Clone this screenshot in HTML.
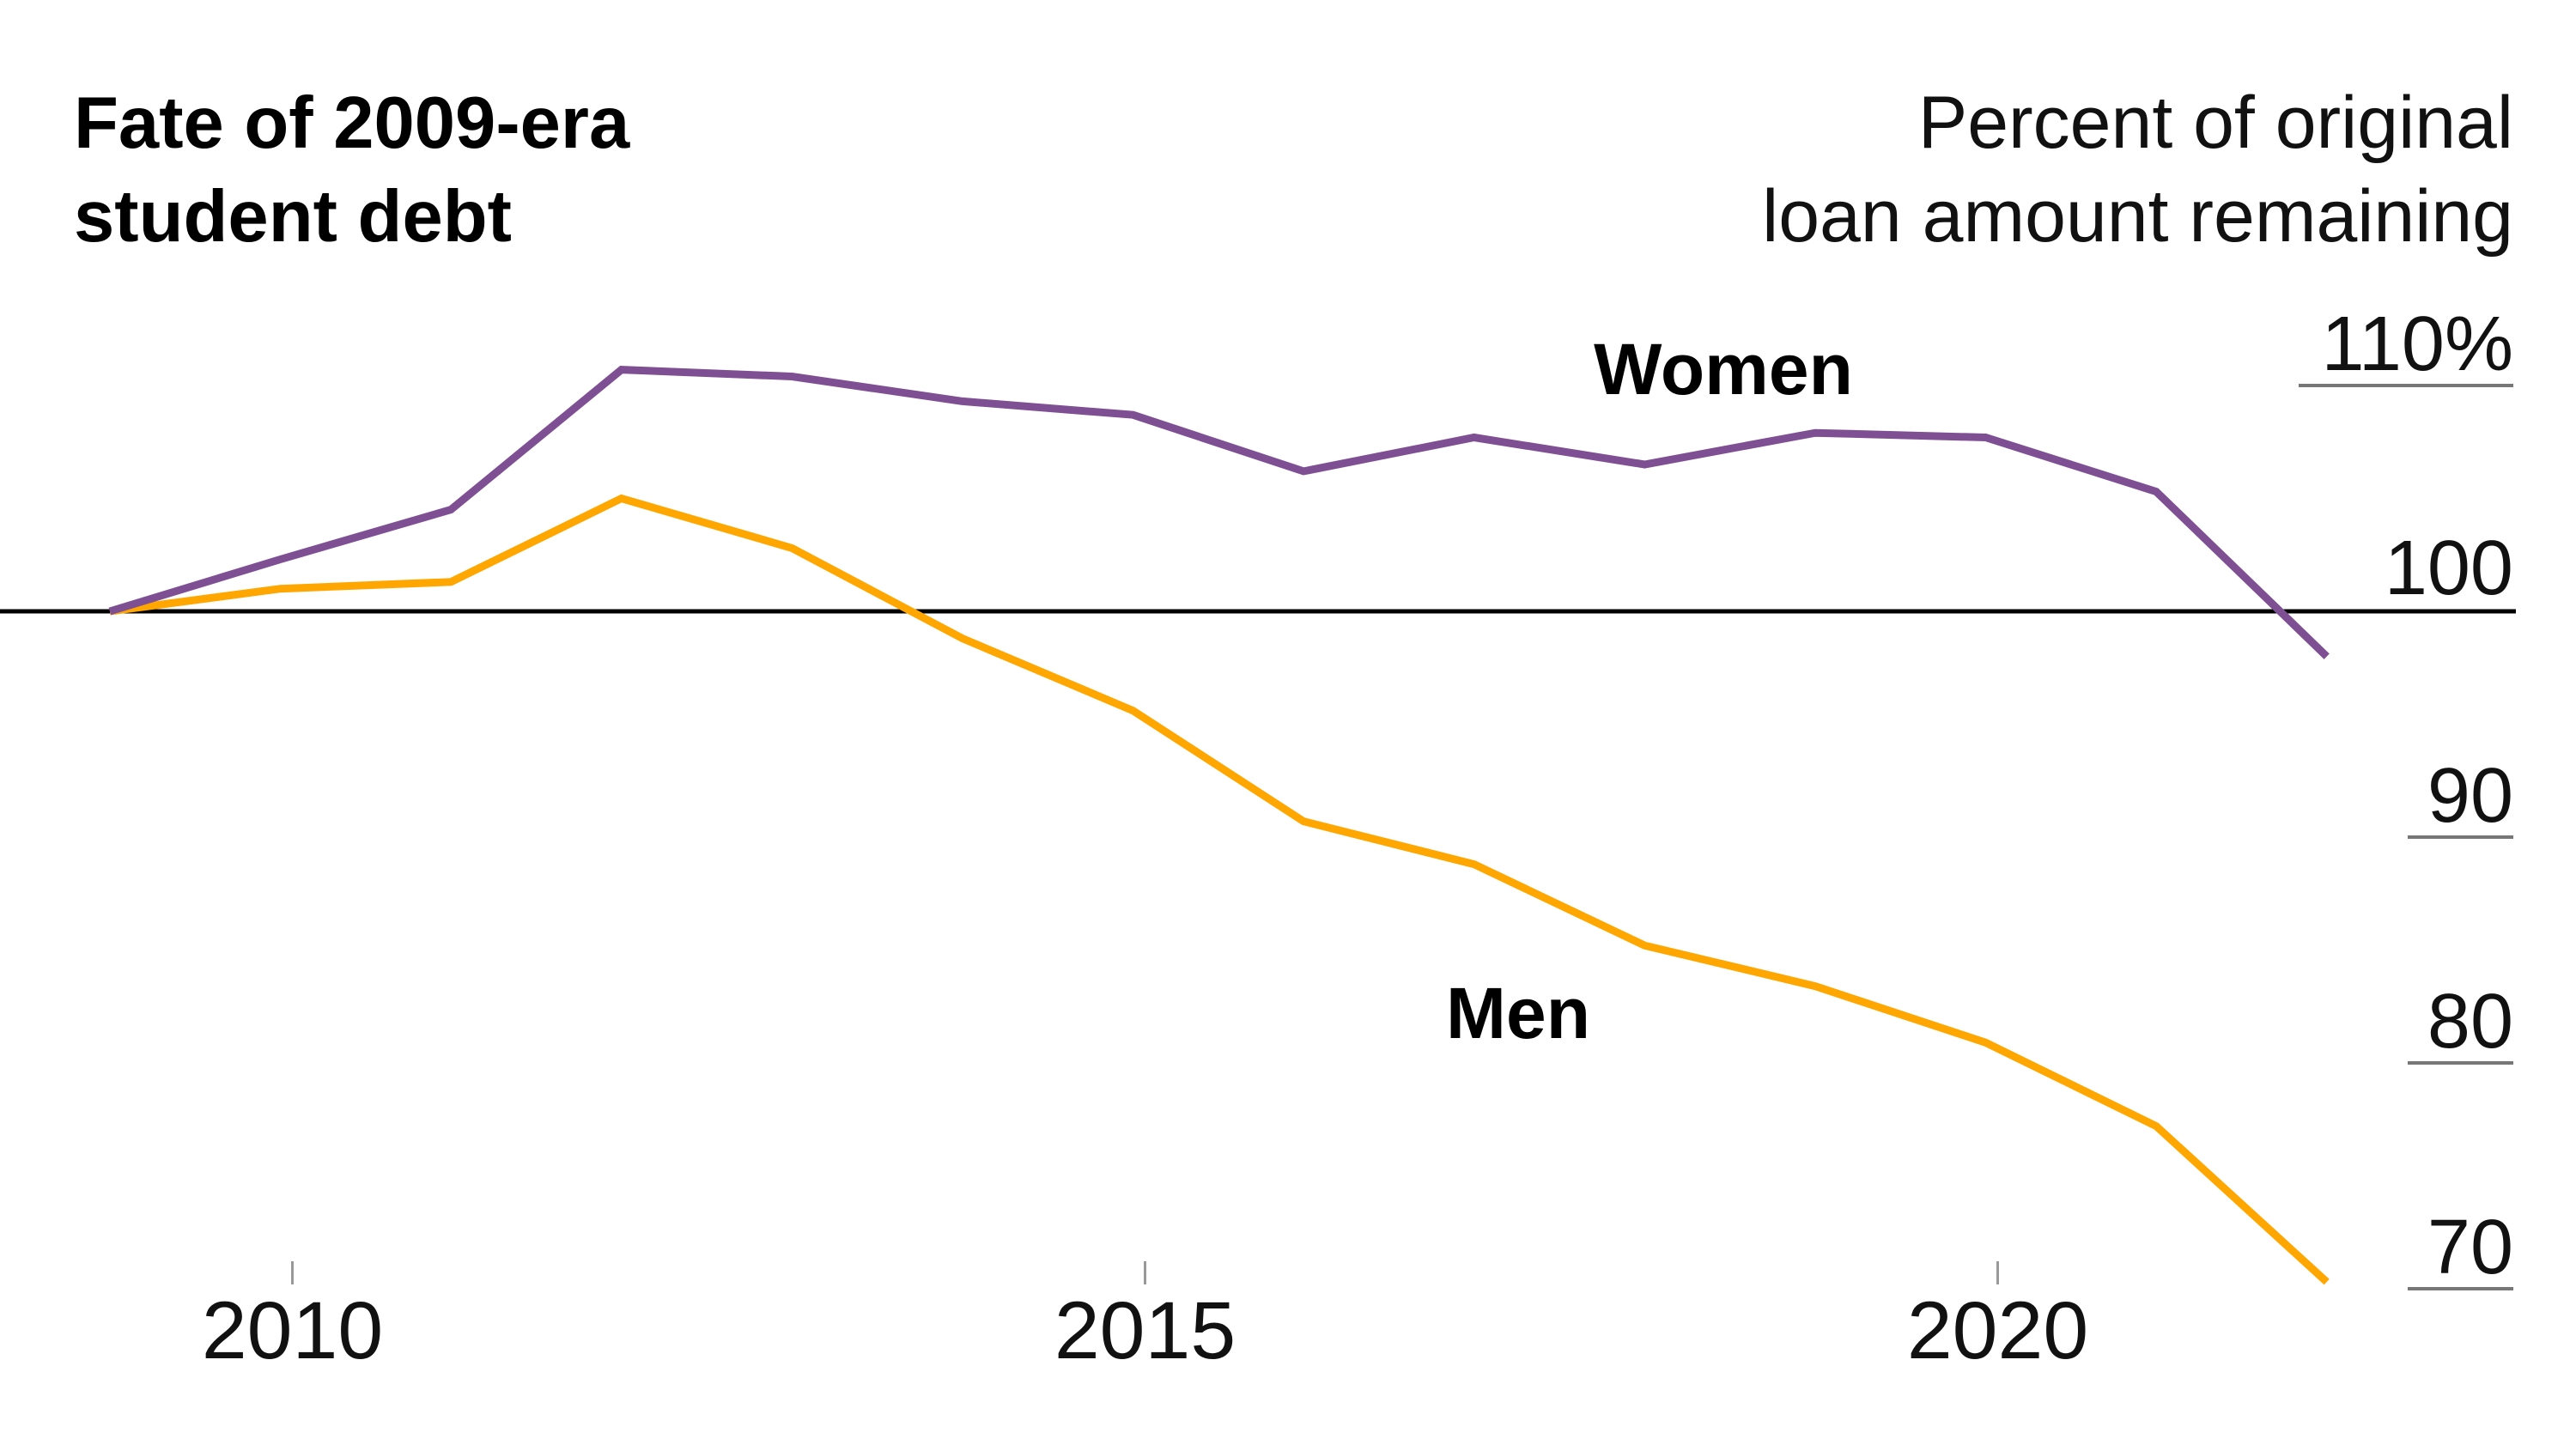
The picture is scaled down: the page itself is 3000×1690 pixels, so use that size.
<!DOCTYPE html>
<html><head><meta charset="utf-8"><style>
html,body{margin:0;padding:0;background:#fff;}
svg{display:block;}
text{font-family:"Liberation Sans",sans-serif;}
</style></head><body>
<svg id="chart" width="3000" height="1690" viewBox="0 0 3000 1690">
<text x="86" y="172" font-size="85" font-weight="bold" fill="#000">Fate of 2009-era</text>
<text x="86" y="281" font-size="85" font-weight="bold" fill="#000">student debt</text>
<text x="2927" y="172" font-size="86" text-anchor="end" fill="#111">Percent of original</text>
<text x="2927" y="281" font-size="86" text-anchor="end" fill="#111">loan amount remaining</text>
<g id="grid"></g>
<g id="xaxis"></g>
<g id="series"></g>
<text x="2007" y="459" font-size="84" font-weight="bold" text-anchor="middle" fill="#000">Women</text>
<text x="1768" y="1209" font-size="84" font-weight="bold" text-anchor="middle" fill="#000">Men</text>
</svg>
<script>
const years = [2009,2010,2011,2012,2013,2014,2015,2016,2017,2018,2019,2020,2021,2022];
const women = [100,102.3,104.5,110.7,110.4,109.3,108.7,106.2,107.7,106.5,107.9,107.7,105.3,98.0];
const men = [100,101.0,101.3,105.0,102.8,98.8,95.6,90.7,88.8,85.2,83.4,80.9,77.2,70.3];
const yTicks = [110,90,80,70];
const yTickLabels = ["110%","90","80","70"];
const xTicks = [2010,2015,2020];
const xTickLabels = ["2010","2015","2020"];

const NS = "http://www.w3.org/2000/svg";
function x(v){ return 340.5 + (v-2010)*198.6; }
function xs(v){ return x(v) - 14; }
function y(v){ return 712 - (v-100)*26.3; }
function mk(tag, attrs, parent){ const e=document.createElementNS(NS,tag); for(const k in attrs) e.setAttribute(k,attrs[k]); parent.appendChild(e); return e; }

const grid=document.getElementById('grid');
yTicks.forEach((t,i)=>{
  const lbl=yTickLabels[i];
  const w = lbl.length>2 ? 250 : 123;
  const ln=mk('line',{x1:2927-w,x2:2927,y1:y(t),y2:y(t),stroke:'#777','stroke-width':4},grid);
  
  
  const tx=mk('text',{x:2927,y:y(t)-18,'font-size':90,'text-anchor':'end',fill:'#111'},grid);
  tx.textContent=lbl;
  
  
});
const base=mk('line',{x1:0,x2:2930,y1:y(100),y2:y(100),stroke:'#000','stroke-width':5},grid);


const bl=mk('text',{x:2927,y:y(100)-20,'font-size':90,'text-anchor':'end',fill:'#111'},grid);
bl.textContent="100";



const xa=document.getElementById('xaxis');
xTicks.forEach((t,i)=>{
  const tk=mk('line',{x1:x(t),x2:x(t),y1:1469,y2:1496,stroke:'#999','stroke-width':3},xa);
  
  
  const tx=mk('text',{x:x(t),y:1582,'font-size':95,'text-anchor':'middle',fill:'#111'},xa);
  tx.textContent=xTickLabels[i];
  
  
});

const sg=document.getElementById('series');
function line(vals,color,name){
  const d=vals.map((v,i)=>(i?'L':'M')+xs(years[i]).toFixed(1)+','+y(v).toFixed(1)).join(' ');
  const p=mk('path',{d:d,fill:'none',stroke:color,'stroke-width':9,'stroke-linejoin':'miter'},sg);
  
  
}
line(men,'#ffa600','men-line');
line(women,'#7f4f94','women-line');
</script>
</body></html>
